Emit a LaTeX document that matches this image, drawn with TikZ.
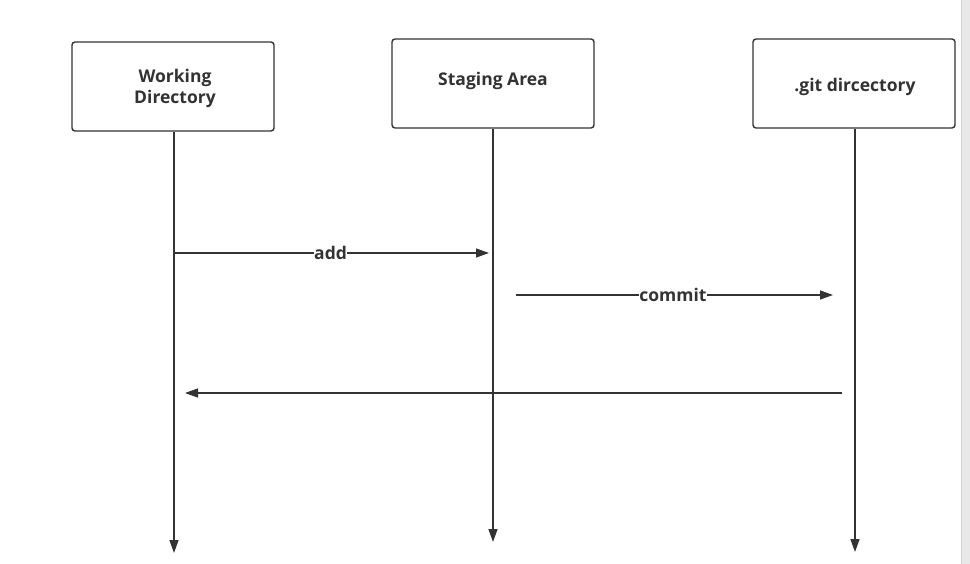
\documentclass[tikz,border=0pt]{standalone}
\usepackage{fontspec}
\setmainfont{Open Sans}
\usetikzlibrary{arrows.meta}
\definecolor{ink}{HTML}{333333}
\begin{document}
\begin{tikzpicture}[x=1pt,y=-1pt,
  actor/.style={draw=ink,line width=1.4pt,rounded corners=3pt,fill=white,minimum width=202pt,minimum height=89pt,inner sep=0pt},
  txt/.style={inner sep=0pt,align=center,font=\bfseries\fontsize{17.5}{21}\selectfont,text=ink},
  life/.style={draw=ink,line width=1.4pt,-{Triangle[length=13pt,width=9pt]}},
  msg/.style={draw=ink,line width=1.4pt,-{Triangle[length=13pt,width=9pt]}},
  lbl/.style={fill=white,inner sep=0.5pt,font=\bfseries\fontsize{17.5}{21}\selectfont,text=ink}]
\useasboundingbox (0,0) rectangle (970,564);
\fill[white] (0,0) rectangle (970,564);
\fill[black!9] (961,0) rectangle (970,564);
\draw[black!18,line width=0.8pt] (961,0) -- (961,564);
\node[actor] (wd) at (173,86.5) {};
\node[actor] (sa) at (493,83.5) {};
\node[actor] (gd) at (854,83.5) {};
\node[txt] (wdt) at (175,88) {Working\\Directory};
\node[txt] (sat) at (493,80.5) {Staging Area};
\node[txt] (gdt) at (855,87) {.git dircectory};
\coordinate (wdEnd) at (174,553);
\coordinate (saEnd) at (493,542);
\coordinate (gdEnd) at (855,552);
\draw[life] (wd.south -| wdEnd) -- (wdEnd);
\draw[life] (sa.south -| saEnd) -- (saEnd);
\draw[life] (gd.south -| gdEnd) -- (gdEnd);
\coordinate (a1) at (174,253); \coordinate (a2) at (489,253);
\coordinate (c1) at (516,295); \coordinate (c2) at (833,295);
\coordinate (r1) at (842,393); \coordinate (r2) at (185,393);
\draw[msg] (a1) -- node[lbl,pos=0.497] (addl) {add} (a2);
\draw[msg] (c1) -- node[lbl,pos=0.495] (coml) {commit} (c2);
\draw[msg] (r1) -- (r2);
\end{tikzpicture}
\end{document}
